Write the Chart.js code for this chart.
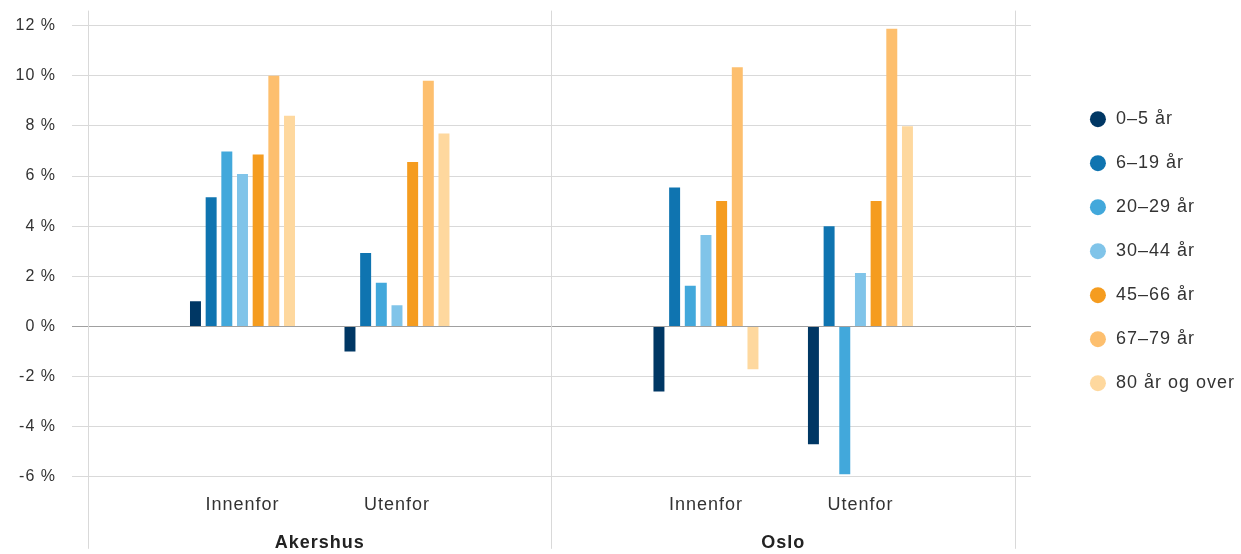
<!DOCTYPE html>
<html lang="no">
<head>
<meta charset="utf-8">
<title>Befolkningsvekst etter alder</title>
<script src="https://cdn.jsdelivr.net/npm/chart.js@4.4.1/dist/chart.umd.min.js"></script>
<style>
  html, body { margin: 0; padding: 0; background: #fff; }
  #wrap { width: 1241px; height: 554px; position: relative; }
</style>
</head>
<body>
<div id="wrap"><canvas id="chart"></canvas></div>
<script>
// Fylker og soner (Innenfor / Utenfor) langs x-aksen
var regions = ['Akershus', 'Oslo'];
var zones = ['Innenfor', 'Utenfor'];

// Aldersgrupper
var ageGroups = ['0–5 år', '6–19 år', '20–29 år', '30–44 år', '45–66 år', '67–79 år', '80 år og over'];

// Endring i prosent: Akershus innenfor, Akershus utenfor, Oslo innenfor, Oslo utenfor
var age0to5   = [1.0, -1.0, -2.6, -4.7];
var age6to19  = [5.15, 2.93, 5.54, 4.0];
var age20to29 = [6.98, 1.74, 1.62, -5.9];
var age30to44 = [6.08, 0.84, 3.65, 2.13];
var age45to66 = [6.86, 6.56, 5.0, 5.0];
var age67to79 = [10.0, 9.8, 10.34, 11.87];
var age80plus = [8.4, 7.7, -1.71, 7.98];

var yTicks = [-6, -4, -2, 0, 2, 4, 6, 8, 10, 12];

var seriesValues = [age0to5, age6to19, age20to29, age30to44, age45to66, age67to79, age80plus];
var seriesColors = ['#003764', '#0f74b0', '#42a8db', '#80c4e9', '#f59c1f', '#fdbf6e', '#fed89e'];

// tomme plasser rundt hvert fylke gir luft og skillelinjer
var xLabels = [''];
regions.forEach(function () {
    zones.forEach(function (z) { xLabels.push(z); });
    xLabels.push('');
});

function spread(vals) {
    var out = [null];
    for (var r = 0; r < regions.length; r++) {
        for (var z = 0; z < zones.length; z++) {
            out.push(vals[r * zones.length + z]);
        }
        out.push(null);
    }
    return out;
}

var datasets = [];
for (var i = 0; i < ageGroups.length; i++) {
    datasets.push({
        label: ageGroups[i],
        data: spread(seriesValues[i]),
        backgroundColor: seriesColors[i],
        borderWidth: 0,
        categoryPercentage: 0.71,
        barPercentage: 0.7
    });
}

var gridColor = '#d9d9d9';
var fontFamily = 'Liberation Sans, Arial, sans-serif';

function gridLineColor(ctx) {
    return ctx.tick && ctx.tick.value === 0 ? '#a0a0a0' : gridColor;
}

// litt luft mellom bokstavene, settes på nytt etter hver resize
var spacing = {
    id: 'spacing',
    beforeLayout: function (chart) { chart.ctx.letterSpacing = '1px'; },
    beforeDraw: function (chart) { chart.ctx.letterSpacing = '1px'; }
};

// loddrette skillelinjer mellom fylkene, helt ned forbi aksetekstene
var regionDividers = {
    id: 'regionDividers',
    beforeDatasetsDraw: function (chart) {
        var x = chart.scales.x;
        var area = chart.chartArea;
        var c = chart.ctx;
        c.save();
        c.strokeStyle = gridColor;
        c.lineWidth = 1;
        for (var k = 0; k < xLabels.length; k++) {
            if (xLabels[k] !== '') continue;
            var px = Math.round(x.getPixelForValue(k)) + 0.5;
            c.beginPath();
            c.moveTo(px, area.top - 15);
            c.lineTo(px, area.bottom + 72);
            c.stroke();
        }
        c.restore();
    }
};

var yMin = yTicks[0], yMax = yTicks[yTicks.length - 1];

function fixedTicks(axis) {
    axis.ticks = yTicks.map(function (v) { return { value: v }; });
}

new Chart(document.getElementById('chart'), {
    type: 'bar',
    data: { labels: xLabels, datasets: datasets },
    options: {
        responsive: true,
        maintainAspectRatio: false,
        animation: false,
        layout: { padding: { top: 16, left: 0, right: -4, bottom: 0 } },
        plugins: {
            tooltip: { enabled: false },
            legend: {
                position: 'right',
                fullSize: false,
                labels: {
                    usePointStyle: true,
                    pointStyle: 'circle',
                    boxWidth: 18,
                    boxHeight: 11.3,
                    padding: 26,
                    color: '#333',
                    font: { family: fontFamily, size: 18 }
                }
            }
        },
        scales: {
            x: {
                offset: false,
                grid: { display: false, drawTicks: false },
                border: { display: false },
                ticks: {
                    color: '#333',
                    padding: 17,
                    maxRotation: 0,
                    autoSkip: false,
                    font: { family: fontFamily, size: 18 }
                }
            },
            x2: {
                type: 'category',
                labels: regions,
                position: 'bottom',
                offset: true,
                grid: { display: false, drawTicks: false },
                border: { display: false },
                ticks: {
                    color: '#222',
                    padding: 0,
                    maxRotation: 0,
                    font: { family: fontFamily, size: 18, weight: 'bold' }
                }
            },
            y: {
                min: yMin,
                max: yMax,
                afterBuildTicks: fixedTicks,
                afterFit: function (axis) { axis.width = 88; },
                grid: { color: gridLineColor, tickLength: 16, tickColor: gridLineColor },
                border: { display: false },
                ticks: {
                    color: '#333',
                    padding: 16,
                    font: { family: fontFamily, size: 16 },
                    callback: function (v) { return v + ' %'; }
                }
            },
            yRight: {
                position: 'right',
                min: yMin,
                max: yMax,
                afterBuildTicks: fixedTicks,
                afterFit: function (axis) { axis.width = 48; },
                grid: { drawOnChartArea: false, color: gridLineColor, tickLength: 16, tickColor: gridLineColor },
                border: { display: false },
                ticks: { display: false }
            }
        }
    },
    plugins: [spacing, regionDividers]
});
</script>
</body>
</html>
